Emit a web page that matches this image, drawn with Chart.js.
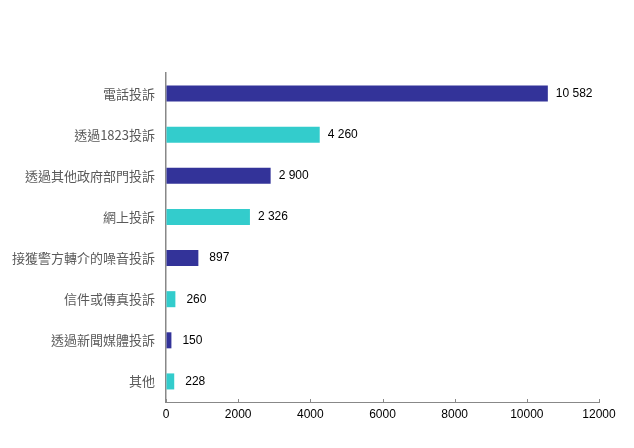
<!DOCTYPE html>
<html>
<head>
<meta charset="utf-8">
<script src="https://cdn.jsdelivr.net/npm/chart.js@4"></script>
<style>
  html, body { margin: 0; padding: 0; background: #fff; }
  #wrap { width: 634px; height: 448px; }
</style>
</head>
<body>
<div id="wrap"><canvas id="barChart"></canvas></div>
<script>
const categories = ['電話投訴', '透過1823投訴', '透過其他政府部門投訴', '網上投訴', '接獲警方轉介的噪音投訴', '信件或傳真投訴', '透過新聞媒體投訴', '其他'];
const complaints = [10582, 4260, 2900, 2326, 897, 260, 150, 228];
const barColors = ['#333399', '#33CCCC', '#333399', '#33CCCC', '#333399', '#33CCCC', '#333399', '#33CCCC'];
const xTicks = [0, 2000, 4000, 6000, 8000, 10000, 12000];

const fmt = v => String(v).replace(/\B(?=(\d{3})+(?!\d))/g, ' ');

// value labels after each bar + small inward ticks on the x axis
const extras = {
    id: 'extras',
    afterDatasetsDraw(chart) {
        const ctx = chart.ctx;
        const meta = chart.getDatasetMeta(0);
        ctx.save();
        ctx.font = '12px "Liberation Sans", Arial, sans-serif';
        ctx.fillStyle = '#000';
        ctx.textBaseline = 'middle';
        ctx.textAlign = 'left';
        meta.data.forEach((bar, i) => {
            const v = complaints[i];
            const off = v < 1000 ? 11 : 8;
            ctx.fillText(fmt(v), bar.x + off, bar.y);
        });
        const xs = chart.scales.x;
        const bottom = chart.chartArea.bottom;
        ctx.strokeStyle = '#888';
        ctx.lineWidth = 1;
        xs.ticks.forEach((t, i) => {
            const px = Math.round(xs.getPixelForTick(i)) + 0.5;
            ctx.beginPath();
            ctx.moveTo(px, bottom - 3);
            ctx.lineTo(px, bottom);
            ctx.stroke();
        });
        ctx.restore();
    }
};

new Chart(document.getElementById('barChart').getContext('2d'), {
    type: 'bar',
    data: {
        labels: categories,
        datasets: [{
            data: complaints,
            backgroundColor: barColors,
            borderColor: barColors,
            borderWidth: 0,
            categoryPercentage: 1,
            barPercentage: 0.39
        }]
    },
    options: {
        indexAxis: 'y',
        responsive: true,
        maintainAspectRatio: false,
        animation: false,
        layout: { padding: { top: 73, right: 35, left: 0, bottom: 0 } },
        plugins: {
            legend: { display: false },
            tooltip: { enabled: false }
        },
        scales: {
            x: {
                min: 0,
                max: 12000,
                afterBuildTicks: s => { s.ticks = xTicks.map(v => ({ value: v })); },
                afterFit: s => { s.height = 46; },
                grid: { drawOnChartArea: false, drawTicks: false },
                border: { color: '#888', width: 1 },
                ticks: {
                    padding: 5,
                    color: '#000',
                    font: { family: '"Liberation Sans", Arial, sans-serif', size: 12 },
                    callback: v => v
                }
            },
            y: {
                afterFit: s => { s.width = 166; },
                grid: { display: false, drawTicks: false },
                border: { color: '#888', width: 1.5 },
                ticks: {
                    padding: 11,
                    color: '#595959',
                    font: { family: '"Noto Sans CJK TC", sans-serif', size: 13 }
                }
            }
        }
    },
    plugins: [extras]
});
</script>
</body>
</html>
